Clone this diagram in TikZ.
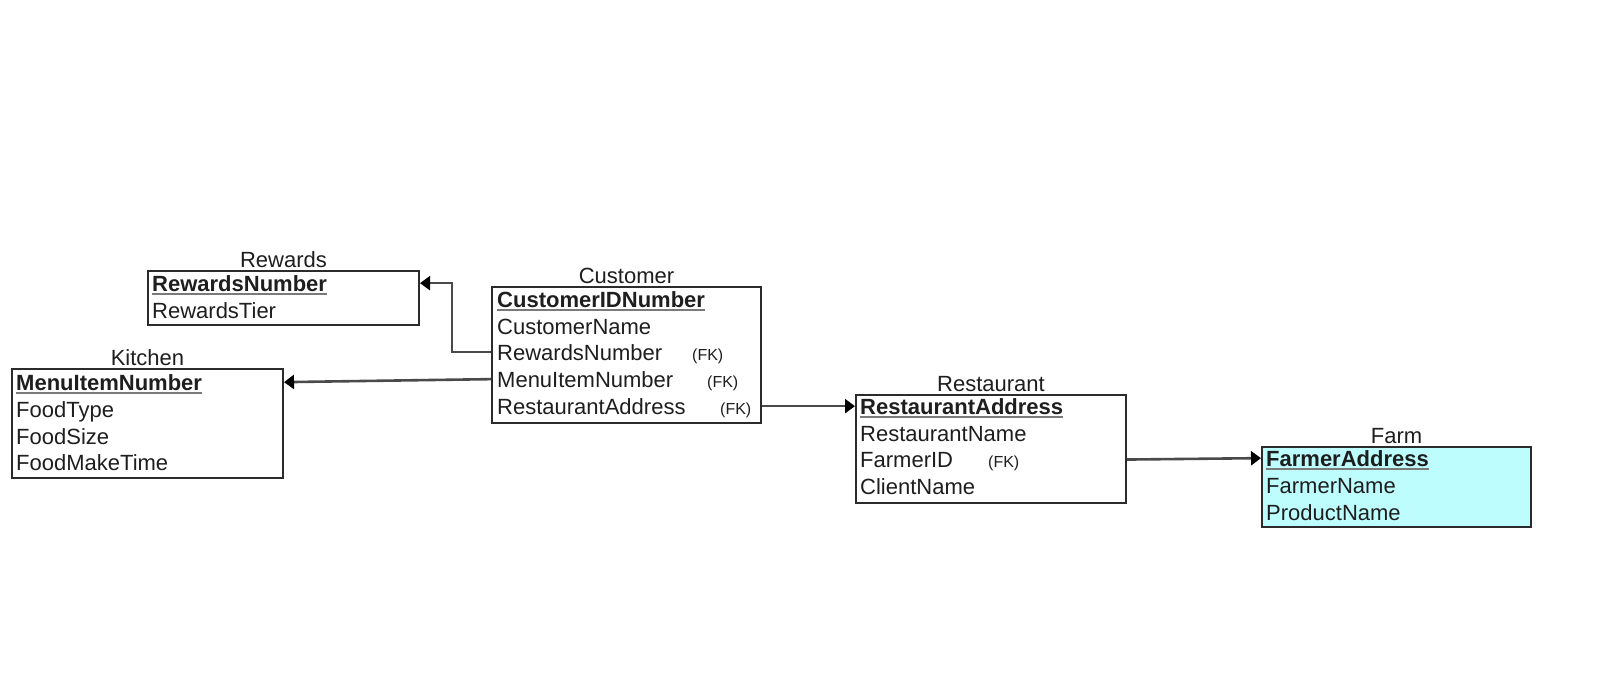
\documentclass[tikz,border=0pt]{standalone}
\usepackage{fontspec}
\setmainfont{Liberation Sans}
\usetikzlibrary{arrows.meta, positioning, calc}
\definecolor{ink}{HTML}{1E1E1E}
\definecolor{edge}{HTML}{2B2B2B}
\definecolor{wire}{HTML}{4A4A4A}
\definecolor{keyline}{HTML}{7A7A7A}
\definecolor{farmfill}{HTML}{BDFDFD}
\tikzset{
  font=\fontsize{22}{26}\selectfont,
  >={Triangle[length=10pt, width=14pt, color=black]},
  %
  tbl/.style={draw=edge, line width=2pt, fill=white, inner sep=0pt},
  tblc/.style={tbl, fill=farmfill},
  ttl/.style={anchor=base, inner sep=0pt, text=ink},
  %
  fld/.style={anchor=base west, inner sep=0pt, text=ink},
  pk/.style={fld, font=\fontsize{22}{26}\selectfont\bfseries},
  fk/.style={anchor=base west, inner sep=0pt, text=ink,
             font=\fontsize{16}{19}\selectfont},
  %
  uline/.style={draw=keyline, line width=2.6pt},
  link/.style={draw=wire, line width=2.6pt, ->},
}

\begin{document}
\begin{tikzpicture}[x=1pt, y=-1pt]

  \fill[white] (0,0) rectangle (1622,686);
  \useasboundingbox (0,0) rectangle (1622,686);

  % tables
  \node[tbl, minimum width=271pt, minimum height=54pt]  (rewards)    at (283.5,298) {};
  \node[tbl, minimum width=271pt, minimum height=109pt] (kitchen)    at (147.5,423.5) {};
  \node[tbl, minimum width=269pt, minimum height=136pt] (customer)   at (626.5,355) {};
  \node[tbl, minimum width=270pt, minimum height=108pt] (restaurant) at (991,449) {};
  \node[tblc, minimum width=269pt, minimum height=80pt] (farm)       at (1396.5,487) {};

  \node[ttl] at ([yshift=3pt]rewards.north)    {Rewards};
  \node[ttl] at ([yshift=3pt]kitchen.north)    {Kitchen};
  \node[ttl] at ([yshift=3pt]customer.north)   {Customer};
  \node[ttl] at ([yshift=3pt]restaurant.north) {Restaurant};
  \node[ttl] at ([yshift=3pt]farm.north)       {Farm};

  % Rewards
  \node[pk]  (rNum)  at (152,291) {RewardsNumber};
  \node[fld] (rTier) at (152,318) {RewardsTier};

  % Kitchen
  \node[pk]  (kNum)  at (16,390) {MenuItemNumber};
  \node[fld] (kType) at (16,417) {FoodType};
  \node[fld] (kSize) at (16,444) {FoodSize};
  \node[fld] (kTime) at (16,470) {FoodMakeTime};

  % Customer
  \node[pk]  (cId)   at (497,307) {CustomerIDNumber};
  \node[fld] (cName) at (497,334) {CustomerName};
  \node[fld] (cRew)  at (497,360) {RewardsNumber};
  \node[fld] (cMenu) at (497,387) {MenuItemNumber};
  \node[fld] (cRest) at (497,414) {RestaurantAddress};
  \node[fk]  (cRewFK)  at (692,360) {(FK)};
  \node[fk]  (cMenuFK) at (707,387) {(FK)};
  \node[fk]  (cRestFK) at (720,414) {(FK)};

  % Restaurant
  \node[pk]  (tAddr)   at (860,414) {RestaurantAddress};
  \node[fld] (tName)   at (860,441) {RestaurantName};
  \node[fld] (tFarmer) at (860,467) {FarmerID};
  \node[fld] (tClient) at (860,494) {ClientName};
  \node[fk]  (tFarmerFK) at (988,467) {(FK)};

  % Farm
  \node[pk]  (fAddr) at (1266,466) {FarmerAddress};
  \node[fld] (fName) at (1266,493) {FarmerName};
  \node[fld] (fProd) at (1266,520) {ProductName};

  % key underlines
  \foreach \k in {rNum, kNum, cId, tAddr, fAddr}
    \draw[uline] ([yshift=-3pt]\k.base west) -- ([yshift=-3pt]\k.base east);

  % references
  \draw[link] (customer.west |- cRew) -- ++(-39,0) |- (rewards.east |- rNum);
  \draw[link] (customer.west |- cMenu) -- (kitchen.east |- kNum);
  \draw[link] (customer.east |- cRest) -- (restaurant.west |- tAddr);
  \draw[link] (restaurant.east |- tFarmer) -- (farm.west |- fAddr);

\end{tikzpicture}
\end{document}
